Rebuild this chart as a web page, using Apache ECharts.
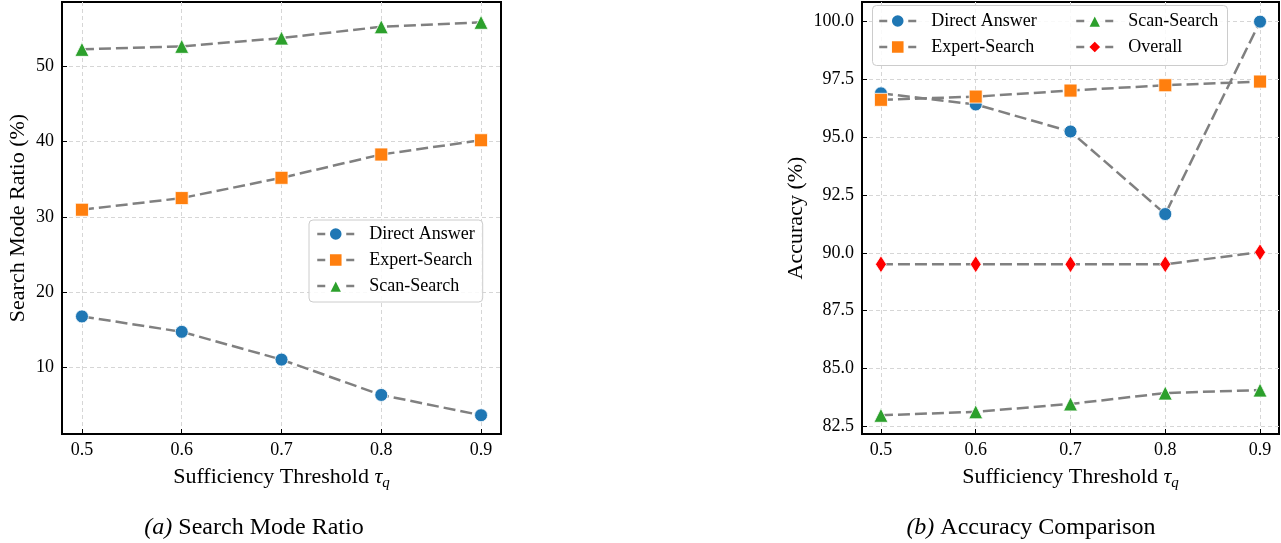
<!DOCTYPE html>
<html>
<head>
<meta charset="utf-8">
<script src="https://cdn.jsdelivr.net/npm/echarts@6/dist/echarts.min.js"></script>
<style>
  html, body { margin: 0; padding: 0; background: #fff; }
  #chart { width: 1281px; height: 543px; }
</style>
</head>
<body>
<div id="chart"></div>
<script>
// 공통 x축 값
const thresholds = [0.5, 0.6, 0.7, 0.8, 0.9];

// (a) Search Mode Ratio (%)
const ratioDirect = [16.75, 14.7, 11.0, 6.3, 3.6];
const ratioExpert = [30.95, 32.5, 35.2, 38.3, 40.2];
const ratioScan = [52.3, 52.7, 53.8, 55.3, 55.9];
const ratioTicks = [10, 20, 30, 40, 50];

// (b) Accuracy (%)
const accDirect = [96.9, 96.42, 95.25, 91.68, 100.0];
const accExpert = [96.62, 96.76, 97.02, 97.25, 97.41];
const accScan = [82.98, 83.13, 83.47, 83.94, 84.07];
const accOverall = [89.51, 89.51, 89.51, 89.51, 90.03];
const accTicks = [82.5, 85.0, 87.5, 90.0, 92.5, 95.0, 97.5, 100.0];

const FONT = '"Liberation Serif", "DejaVu Serif", serif';
const GRID_LINE = { show: true, lineStyle: { color: '#d6d6d6', type: [4, 3], width: 1 } };

const markers = {
  'Direct Answer': { symbol: 'circle', size: 13, color: '#1f77b4' },
  'Expert-Search': { symbol: 'rect', size: 13, color: '#ff7f0e' },
  'Scan-Search': { symbol: 'triangle', size: 14, color: '#2ca02c' },
  'Overall': { symbol: 'diamond', size: [11, 17], color: '#ff0000' }
};

const pairs = vals => thresholds.map((t, i) => [t, vals[i]]);

const makeSeries = (name, vals, idx) => ({
  name,
  type: 'line',
  xAxisIndex: idx,
  yAxisIndex: idx,
  data: pairs(vals),
  symbol: markers[name].symbol,
  symbolSize: markers[name].size,
  lineStyle: { color: '#808080', width: 2.5, type: [12, 5] },
  itemStyle: { color: markers[name].color, borderColor: '#fff', borderWidth: 0.8 },
  emphasis: { disabled: true },
  animation: false,
  z: 5
});

const xAxisFor = idx => ({
  type: 'value',
  gridIndex: idx,
  min: 0.48,
  max: 0.92,
  name: 'Sufficiency Threshold {t|τ}{s|q}',
  nameLocation: 'middle',
  nameGap: 30,
  nameTextStyle: {
    fontFamily: FONT, fontSize: 22, color: '#000',
    rich: {
      t: { fontFamily: FONT, fontSize: 22, fontStyle: 'italic', color: '#000' },
      s: { fontFamily: FONT, fontSize: 15, fontStyle: 'italic', color: '#000', padding: [12, 0, 0, 0] }
    }
  },
  axisLine: { show: false },
  axisTick: { show: true, inside: true, length: 5, customValues: thresholds, lineStyle: { color: '#000' } },
  axisLabel: {
    customValues: thresholds, margin: 7,
    fontFamily: FONT, fontSize: 18, color: '#000',
    formatter: v => v.toFixed(1)
  },
  splitLine: GRID_LINE
});

const yAxisFor = (idx, min, max, ticks, name, gap, digits) => ({
  type: 'value',
  gridIndex: idx,
  min, max,
  name,
  nameLocation: 'middle',
  nameGap: gap,
  nameTextStyle: { fontFamily: FONT, fontSize: 22, color: '#000' },
  axisLine: { show: false },
  axisTick: { show: true, inside: true, length: 5, customValues: ticks, lineStyle: { color: '#000' } },
  axisLabel: {
    customValues: ticks, margin: 8,
    fontFamily: FONT, fontSize: 18, color: '#000',
    formatter: v => v.toFixed(digits)
  },
  splitLine: GRID_LINE
});

const legendBase = {
  orient: 'vertical',
  itemWidth: 37,
  itemHeight: 17,
  itemGap: 8,
  selectedMode: false,
  lineStyle: { type: [8, 21], width: 2.5, color: '#808080' },
  textStyle: { fontFamily: FONT, fontSize: 18, color: '#000', padding: [0, 0, 0, 10] }
};

// 캡션 텍스트
const captionText = (text, x) => ({
  type: 'text',
  style: {
    text, x, y: 528, align: 'center', verticalAlign: 'middle',
    font: '24px ' + FONT, fill: '#000',
    rich: { i: { fontFamily: FONT, fontSize: 24, fontStyle: 'italic', fill: '#000' } }
  }
});

const chart = echarts.init(document.getElementById('chart'), null, { renderer: 'canvas' });

chart.setOption({
  animation: false,
  backgroundColor: '#fff',
  grid: [
    { left: 62, top: 2, width: 439, height: 432, show: true, borderColor: '#000', borderWidth: 2, backgroundColor: 'transparent' },
    { left: 862, top: 2, width: 417, height: 432, show: true, borderColor: '#000', borderWidth: 2, backgroundColor: 'transparent' }
  ],
  xAxis: [xAxisFor(0), xAxisFor(1)],
  yAxis: [
    yAxisFor(0, 1.1, 58.6, ratioTicks, 'Search Mode Ratio (%)', 33, 0),
    yAxisFor(1, 82.17, 100.85, accTicks, 'Accuracy (%)', 55, 1)
  ],
  legend: [
    // 왼쪽 범례 (테두리 포함)
    Object.assign({}, legendBase, {
      left: 309, top: 220,
      padding: [5, 8, 7, 7],
      borderColor: '#cccccc', borderWidth: 1, borderRadius: 4,
      backgroundColor: 'rgba(255,255,255,0.85)',
      data: ['Direct Answer', 'Expert-Search', 'Scan-Search']
    }),
    // 오른쪽 범례 1열
    Object.assign({}, legendBase, {
      left: 878, top: 12, padding: 0,
      data: ['Direct Answer', 'Expert-Search']
    }),
    // 오른쪽 범례 2열
    Object.assign({}, legendBase, {
      left: 1075, top: 12, padding: 0,
      data: ['Scan-Search', 'Overall']
    })
  ],
  graphic: [
    // 오른쪽 범례 테두리
    {
      type: 'rect', left: 872, top: 5, z: 3,
      shape: { width: 355, height: 60, r: 4 },
      style: { fill: 'rgba(255,255,255,0.85)', stroke: '#cccccc', lineWidth: 1 }
    },
    captionText('{i|(a)} Search Mode Ratio', 254),
    captionText('{i|(b)} Accuracy Comparison', 1031)
  ],
  series: [
    makeSeries('Direct Answer', ratioDirect, 0),
    makeSeries('Expert-Search', ratioExpert, 0),
    makeSeries('Scan-Search', ratioScan, 0),
    makeSeries('Direct Answer', accDirect, 1),
    makeSeries('Expert-Search', accExpert, 1),
    makeSeries('Scan-Search', accScan, 1),
    makeSeries('Overall', accOverall, 1)
  ]
});
</script>
</body>
</html>
